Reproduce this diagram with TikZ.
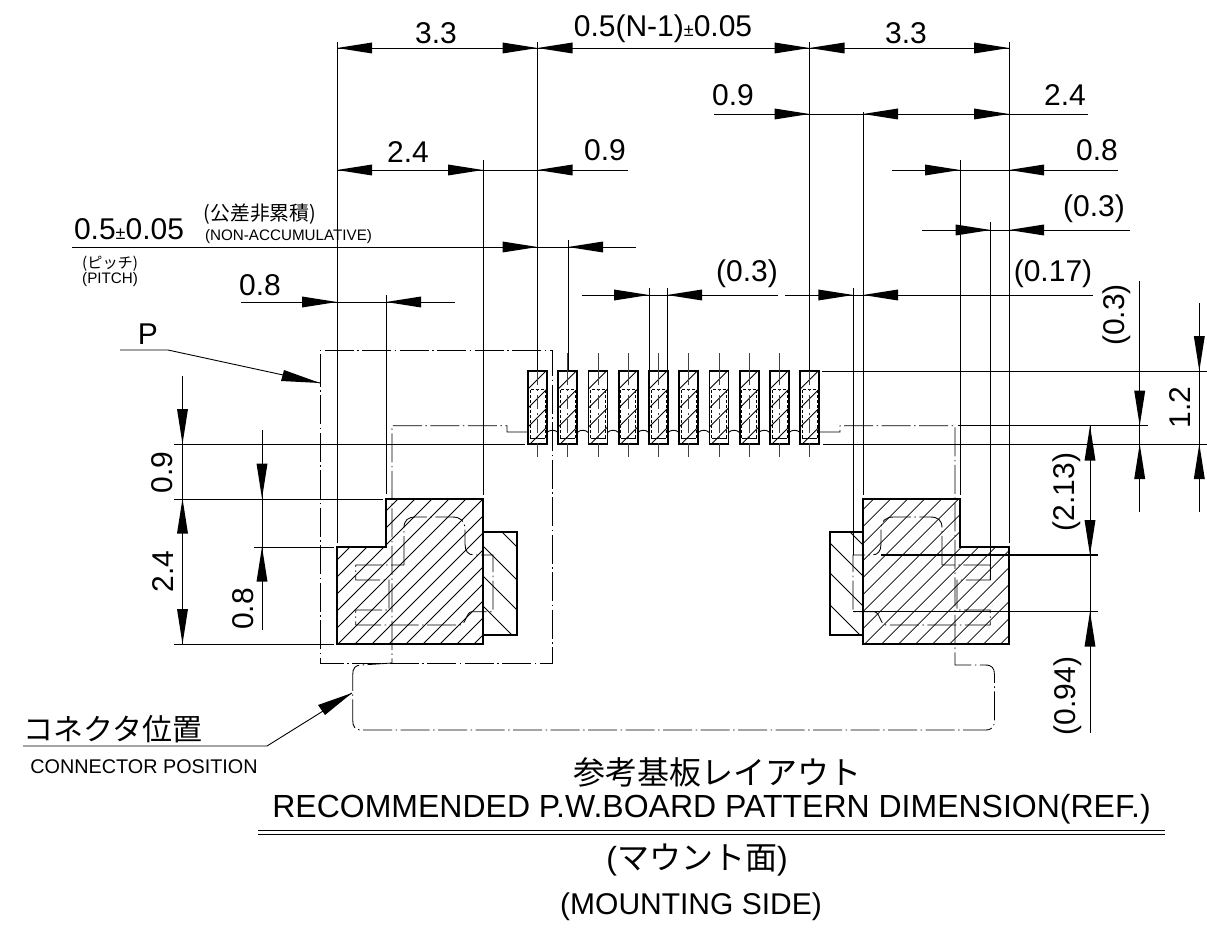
\documentclass[tikz,border=0pt]{standalone}
\usepackage{fontspec}
\setmainfont{Liberation Sans}
\newfontfamily\cjk{Noto Sans CJK JP}
\tikzset{
 thin line/.style={line width=.9pt},
 pad line/.style={line width=1.7pt},
 hatch line/.style={line width=.75pt},
 hidden line/.style={line width=.85pt,dash pattern=on 29pt off 3.5pt on 1.5pt off 3.5pt},
 lab/.style={inner sep=0pt,font=\fontsize{30}{30}\selectfont},
 small lab/.style={inner sep=0pt,font=\fontsize{19.8}{20}\selectfont},
 tiny lab/.style={inner sep=0pt,font=\fontsize{15.2}{15}\selectfont},
 title lab/.style={inner sep=0pt,font=\fontsize{32}{32}\selectfont},
}
\newcommand\tipR[2]{\fill (#1,#2) -- ++(-35,-5.5) -- ++(0,11) -- cycle;}
\newcommand\tipL[2]{\fill (#1,#2) -- ++(35,-5.5) -- ++(0,11) -- cycle;}
\newcommand\tipD[2]{\fill (#1,#2) -- ++(-5.5,-35) -- ++(11,0) -- cycle;}
\newcommand\tipU[2]{\fill (#1,#2) -- ++(-5.5,35) -- ++(11,0) -- cycle;}
\newcommand\plusminus{{\fontsize{18}{18}\selectfont ±}}
\begin{document}
\begin{tikzpicture}[x=1pt,y=-1pt]
\useasboundingbox (0,0) rectangle (1207,933);
% ---------- left land hatch
\begin{scope}
 \clip (337,547) -- (386,547) -- (386,499) -- (483,499) -- (483,644) -- (337,644) -- cycle;
 \foreach \k in {-8,...,8} \draw[hatch line] ({355+17*\k-200},844) -- ({355+17*\k+200},444);
\end{scope}
\begin{scope}
 \clip (483,532) rectangle (517,635);
 \foreach \c in {-30,-63,-93,-123} \draw[hatch line] ({\c+400},400) -- ({\c+700},700);
\end{scope}
% ---------- right land hatch
\begin{scope}
 \clip (1009,547) -- (960,547) -- (960,499) -- (863,499) -- (863,644) -- (1009,644) -- cycle;
 \foreach \k in {-10,...,8} \draw[hatch line] ({881.7+17*\k-200},844) -- ({881.7+17*\k+200},444);
\end{scope}
\begin{scope}
 \clip (830,532) rectangle (863,635);
 \foreach \c in {318,287,257,225} \draw[hatch line] ({\c+400},400) -- ({\c+700},700);
\end{scope}
% ---------- lands outline
\draw[pad line] (337,547) -- (386,547) -- (386,499) -- (483,499) -- (483,644) -- (337,644) -- cycle;
\draw[pad line] (483,532) -- (517,532) -- (517,635) -- (483,635);
\draw[pad line] (1009,547) -- (960,547) -- (960,499) -- (863,499) -- (863,644) -- (1009,644) -- cycle;
\draw[pad line] (863,532) -- (830,532) -- (830,635) -- (863,635);
% ---------- fine pads
\foreach \i in {0,...,9} {
 \pgfmathsetmacro\px{528+30.25*\i}
 \begin{scope}
  \clip (\px,371) rectangle ({\px+19},444);
  \foreach \c in {917,936,955,974} \draw[hatch line] ({\px-528+\c-350},350) -- ({\px-528+\c-470},470);
 \end{scope}
 \draw[thin line,densely dashed] ({\px+2},438) -- ({\px+2},389) -- ({\px+17},389) -- ({\px+17},438);
 \draw[thin line] ({\px+2},438) -- ({\px+17},438);
 \draw[pad line] (\px,371) rectangle ({\px+19},444);
 \draw[thin line,color=black!75] ({\px+9.5},353) -- ({\px+9.5},371);
 \draw[thin line,dash pattern=on 14pt off 4pt on 2pt off 4pt,color=black!75] ({\px+9.5},371) -- ({\px+9.5},444);
 \draw[thin line,color=black!75] ({\px+9.5},444) -- ({\px+9.5},457);
}
\foreach \i in {0,...,8} {
 \pgfmathsetmacro\qx{547+30.25*\i}
 \draw[thin line] (\qx,432.5) .. controls ({\qx+3},429.5) and ({\qx+8},429.5) .. ({\qx+11},432.5);
}
% ---------- connector outlines (hidden)
\draw[hidden line] (528,432) -- (507,432) -- (507,425.7) -- (392,425.7) -- (392,663) -- (362,665) .. controls (355,665) and (352.7,668) .. (352.7,675) -- (352.7,720) .. controls (352.7,727) and (355,730) .. (362,730) -- (985,730) .. controls (992,730) and (994.5,727) .. (994.5,720) -- (994.5,675) .. controls (994.5,668) and (992,665) .. (985,665) -- (955,665) -- (955,425.7) -- (840,425.7) -- (840,432) -- (820,432);
\draw[hidden line] (320,383) -- (320,350) -- (552.5,350) -- (552.5,663) -- (320,663) -- cycle;
\draw[hidden line] (404,565) -- (404,528) .. controls (404,520) and (408,517) .. (416,517) -- (452,517) .. controls (461,517) and (465,521) .. (465,530) -- (465,544) .. controls (465,551) and (468,555) .. (474,555) -- (493,555) -- (493,611.7) -- (472,611.7) .. controls (466,611.7) and (466,625) .. (460,625) -- (355.7,625) -- (355.7,610) -- (389,610) -- (389,580) -- (355.7,580) -- (355.7,565) -- cycle;
\draw[hidden line] (942,565) -- (942,528) .. controls (942,520) and (938,517) .. (930,517) -- (894,517) .. controls (885,517) and (881,521) .. (881,530) -- (881,544) .. controls (881,551) and (878,555) .. (872,555) -- (853,555) -- (853,611.7) -- (874,611.7) .. controls (880,611.7) and (880,625) .. (886,625) -- (990.3,625) -- (990.3,610) -- (957,610) -- (957,580) -- (990.3,580) -- (990.3,565) -- cycle;
% ---------- extension lines
\foreach \x/\a/\b in {337/42/543,1009/42/543,483/160/495,863/112/495,386/295/494,960/160/495,990.7/222/580,568/240/371,649/288/371,667/288/371,853.3/288/555}
 \draw[thin line] (\x,\a) -- (\x,\b);
\draw[line width=1.3pt] (537.5,42) -- (537.5,371);
\draw[line width=1.3pt] (809.5,42) -- (809.5,371);
\foreach \a/\b/\y in {174/525/444,823/1207/444,822/1207/371,174/383/499,254/334/547,174/334/644}
 \draw[thin line] (\a,\y) -- (\b,\y);
\draw[line width=1.3pt] (958,425.7) -- (1097,425.7);
\draw[thin line] (1097,425.7) -- (1148,425.7);
\draw[line width=1.3pt] (881,555) -- (1098,555);
\draw[thin line] (853,611.7) -- (1098,611.7);
% ---------- horizontal dimensions
\draw[thin line] (337,48) -- (1009,48);
\tipL{337}{48}\tipR{537.5}{48}\tipL{537.5}{48}\tipR{809.5}{48}\tipL{809.5}{48}\tipR{1009}{48}
\draw[thin line] (714,114) -- (1088,114);
\tipR{809.5}{114}\tipL{863}{114}\tipR{1009}{114}
\draw[thin line] (337,170) -- (628,170);
\tipL{337}{170}\tipR{483}{170}\tipL{537.5}{170}
\draw[thin line] (892,170) -- (1118,170);
\tipR{960}{170}\tipL{1009}{170}
\draw[thin line] (922,230) -- (1130,230);
\tipR{990.7}{230}\tipL{1009}{230}
\draw[thin line] (72,247) -- (636,247);
\tipR{537.5}{247}\tipL{568}{247}
\draw[thin line] (241,302) -- (455,302);
\tipR{337}{302}\tipL{386}{302}
\draw[thin line] (582,295) -- (778,295);
\tipR{649}{295}\tipL{667}{295}
\draw[thin line] (785,295) -- (1093,295);
\tipR{853.3}{295}\tipL{863}{295}
% ---------- vertical dimensions
\draw[thin line] (182.5,376) -- (182.5,644);
\tipD{182.5}{444}\tipU{182.5}{498.5}\tipD{182.5}{644}
\draw[thin line] (262,430) -- (262,630);
\tipD{262}{498.5}\tipU{262}{546.7}
\draw[thin line] (1139.7,281) -- (1139.7,511.7);
\tipD{1139.7}{425.7}\tipU{1139.7}{444}
\draw[thin line] (1199.3,303) -- (1199.3,511.7);
\tipD{1199.3}{371}\tipU{1199.3}{444}
\draw[thin line] (1090,425.7) -- (1090,733);
\tipU{1090}{425.7}\tipD{1090}{555}\tipU{1090}{611.7}
% ---------- leaders
\draw[thin line] (120,350) -- (168,350) -- (320,383);
\fill (320,383) -- ++(-36,-13) -- ++(-3,11) -- cycle;
\draw[thin line] (23,746) -- (267,746) -- (352,693);
\fill (352,693) -- ++(-27,22) -- ++(-7,-10) -- cycle;
% ---------- title rule
\draw[thin line] (258,830.5) -- (1165,830.5);
\draw[thin line] (258,834.5) -- (1165,834.5);
% ---------- labels
\node[lab] (t1) at (436,33) {3.3};
\node[lab] (t2) at (663,29) {0.5(N-1)\plusminus 0.05};
\node[lab] (t3) at (906,33) {3.3};
\node[lab] (t4) at (733,95) {0.9};
\node[lab] (t5) at (1065,95) {2.4};
\node[lab] (t6) at (408,152) {2.4};
\node[lab] (t7) at (605,150) {0.9};
\node[lab] (t8) at (1097,150) {0.8};
\node[lab] (t9) at (1094,209) {(0.3)};
\node[lab] (t10) at (129,229) {0.5\plusminus 0.05};
\node[small lab] (t11) at (260,214) {\cjk (公差非累積)};
\node[tiny lab] (t12) at (288.5,237) {(NON-ACCUMULATIVE)};
\node[tiny lab,anchor=west] (t13) at (82,264) {\cjk (ピッチ)};
\node[tiny lab,anchor=west] (t14) at (82,280) {(PITCH)};
\node[lab] (t15) at (260,285) {0.8};
\node[lab] (t16) at (747,274) {(0.3)};
\node[lab] (t17) at (1053,274) {(0.17)};
\node[lab] (t18) at (148,334) {P};
\node[lab,rotate=90] (t19) at (162,472.7) {0.9};
\node[lab,rotate=90] (t20) at (163,571.7) {2.4};
\node[lab,rotate=90] (t21) at (242.7,609) {0.8};
\node[lab,rotate=90] (t22) at (1116.7,315) {(0.3)};
\node[lab,rotate=90] (t23) at (1180,407.7) {1.2};
\node[lab,rotate=90] (t24) at (1067,492) {(2.13)};
\node[lab,rotate=90] (t25) at (1068,696) {(0.94)};
\node[lab] (t26) at (113,729) {\cjk コネクタ位置};
\node[small lab] (t27) at (144,767) {CONNECTOR POSITION};
\node[title lab] (t28) at (717,772) {\cjk 参考基板レイアウト};
\node[title lab] (t29) at (711.5,809) {RECOMMENDED P.W.BOARD PATTERN DIMENSION(REF.)};
\node[title lab] (t30) at (697,860) {({\cjk マウント面})};
\node[lab] (t31) at (691,907) {(MOUNTING SIDE)};
\end{tikzpicture}
\end{document}
